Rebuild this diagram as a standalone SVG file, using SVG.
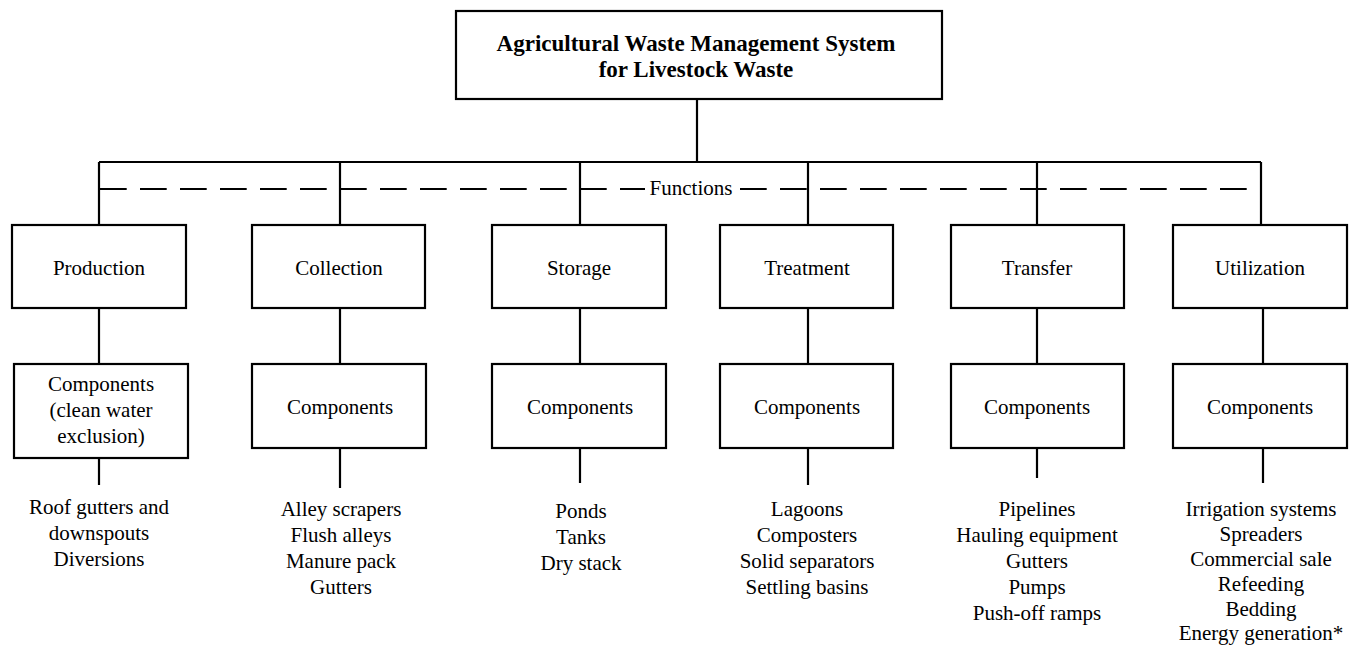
<svg xmlns="http://www.w3.org/2000/svg" width="1355" height="647" viewBox="0 0 1355 647">
<style>
.box{fill:#fff;stroke:#000;stroke-width:2.2}
.ln{fill:none;stroke:#000;stroke-width:2.2}
.dash{fill:none;stroke:#000;stroke-width:2.2;stroke-dasharray:26.7 13.3}
text{font-family:"Liberation Serif","Times New Roman",serif;font-size:21px;fill:#000;text-anchor:middle}
.title{font-weight:bold;font-size:23px}
</style>
<rect width="1355" height="647" fill="#fff"/>
<g id="connectors">
<path class="ln" d="M697 99V162M99 162H1261"/>
<path class="ln" d="M99 162V225M340 162V225M580 162V225M808 162V225M1037 162V225M1261 162V225"/>
<path class="dash" d="M100 189H645"/>
<path class="dash" d="M740 189H1247"/>
<path class="ln" d="M99 308V364M340 308V364M580 308V364M808 308V364M1037 308V364M1263 308V364"/>
<path class="ln" d="M99 458V485M340 448V488M580 448V483M808 448V485M1037 448V478M1263 448V483"/>
</g>
<g id="functions-label"><text x="691" y="195">Functions</text></g>
<g id="title">
<rect class="box" x="456" y="11" width="486" height="88"/>
<text class="title" x="696" y="51">Agricultural Waste Management System</text>
<text class="title" x="696" y="77">for Livestock Waste</text>
</g>
<g id="production">
<rect class="box" x="12" y="225" width="174" height="83"/>
<text x="99" y="275">Production</text>
</g>
<g id="collection">
<rect class="box" x="252" y="225" width="173" height="83"/>
<text x="339" y="275">Collection</text>
</g>
<g id="storage">
<rect class="box" x="492" y="225" width="174" height="83"/>
<text x="579" y="275">Storage</text>
</g>
<g id="treatment">
<rect class="box" x="720" y="225" width="173" height="83"/>
<text x="807" y="275">Treatment</text>
</g>
<g id="transfer">
<rect class="box" x="951" y="225" width="173" height="83"/>
<text x="1037" y="275">Transfer</text>
</g>
<g id="utilization">
<rect class="box" x="1173" y="225" width="174" height="83"/>
<text x="1260" y="275">Utilization</text>
</g>
<g id="production-components">
<rect class="box" x="14" y="364" width="174" height="94"/>
<text x="101" y="391">Components</text>
<text x="101" y="417">(clean water</text>
<text x="101" y="443">exclusion)</text>
</g>
<g id="collection-components">
<rect class="box" x="252" y="364" width="174" height="84"/>
<text x="340" y="414">Components</text>
</g>
<g id="storage-components">
<rect class="box" x="492" y="364" width="174" height="84"/>
<text x="580" y="414">Components</text>
</g>
<g id="treatment-components">
<rect class="box" x="720" y="364" width="173" height="84"/>
<text x="807" y="414">Components</text>
</g>
<g id="transfer-components">
<rect class="box" x="951" y="364" width="173" height="84"/>
<text x="1037" y="414">Components</text>
</g>
<g id="utilization-components">
<rect class="box" x="1173" y="364" width="174" height="84"/>
<text x="1260" y="414">Components</text>
</g>
<g id="production-list">
<text x="99" y="514">Roof gutters and</text>
<text x="99" y="540">downspouts</text>
<text x="99" y="566">Diversions</text>
</g>
<g id="collection-list">
<text x="341" y="516">Alley scrapers</text>
<text x="341" y="542">Flush alleys</text>
<text x="341" y="568">Manure pack</text>
<text x="341" y="594">Gutters</text>
</g>
<g id="storage-list">
<text x="581" y="518">Ponds</text>
<text x="581" y="544">Tanks</text>
<text x="581" y="570">Dry stack</text>
</g>
<g id="treatment-list">
<text x="807" y="516">Lagoons</text>
<text x="807" y="542">Composters</text>
<text x="807" y="568">Solid separators</text>
<text x="807" y="594">Settling basins</text>
</g>
<g id="transfer-list">
<text x="1037" y="516">Pipelines</text>
<text x="1037" y="542">Hauling equipment</text>
<text x="1037" y="568">Gutters</text>
<text x="1037" y="594">Pumps</text>
<text x="1037" y="620">Push-off ramps</text>
</g>
<g id="utilization-list">
<text x="1261" y="516">Irrigation systems</text>
<text x="1261" y="541">Spreaders</text>
<text x="1261" y="566">Commercial sale</text>
<text x="1261" y="591">Refeeding</text>
<text x="1261" y="616">Bedding</text>
<text x="1261" y="640">Energy generation*</text>
</g>
</svg>
